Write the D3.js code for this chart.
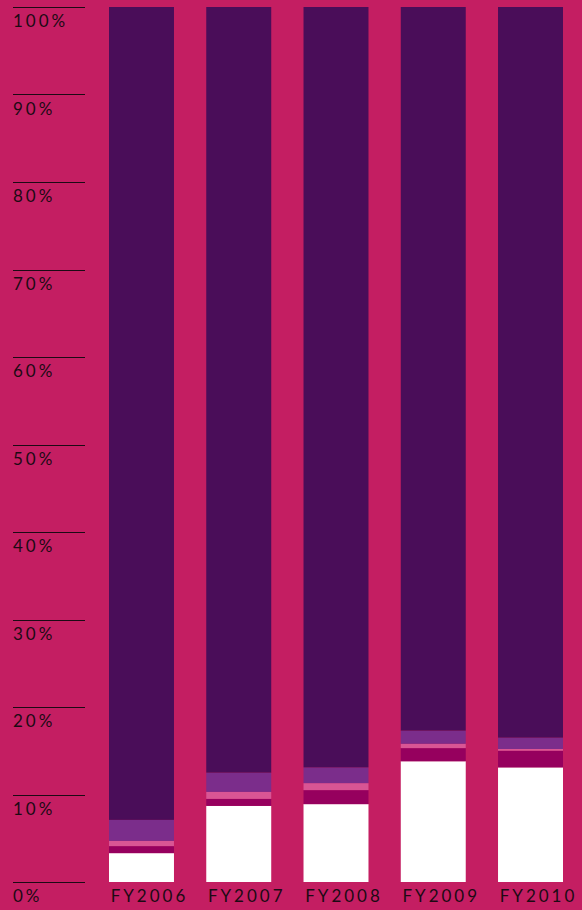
<!DOCTYPE html>
<html>
<head>
<meta charset="utf-8">
<script src="https://cdn.jsdelivr.net/npm/d3@7/dist/d3.min.js"></script>
<style>
  html, body { margin: 0; padding: 0; background: #C41E62; }
  svg { display: block; }
  text { font-family: Lato, "Noto Sans", sans-serif; font-size: 17px; fill: #1c0a14; letter-spacing: 3px; }
</style>
</head>
<body>
<svg id="chart" width="582" height="910"></svg>
<script>
const years = ["FY2006", "FY2007", "FY2008", "FY2009", "FY2010"];
const whiteSeg   = [3.3, 8.7, 8.9, 13.8, 13.1];
const magentaSeg = [0.8, 0.8, 1.6, 1.5, 1.9];
const pinkSeg    = [0.6, 0.8, 0.8, 0.5, 0.2];
const purpleSeg  = [2.4, 2.2, 1.8, 1.5, 1.3];
const darkSeg    = [92.9, 87.5, 86.9, 82.7, 83.5];
const yTicks = [0, 10, 20, 30, 40, 50, 60, 70, 80, 90, 100];
const tickLabels = ["0%", "10%", "20%", "30%", "40%", "50%", "60%", "70%", "80%", "90%", "100%"];

const keys = ["white", "magenta", "pink", "purple", "dark"];
const colors = { white: "#FFFFFF", magenta: "#96005E", pink: "#D95594", purple: "#7B2D8B", dark: "#4A0D59" };
const table = years.map((y, i) => ({
  year: y, white: whiteSeg[i], magenta: magentaSeg[i], pink: pinkSeg[i], purple: purpleSeg[i], dark: darkSeg[i]
}));

const svg = d3.select("#chart");
const y = d3.scaleLinear().domain([0, 100]).range([882, 7]);
const x = d3.scaleBand().domain(years).range([109, 563]).paddingInner(0.332).paddingOuter(0);

const stack = d3.stack().keys(keys)(table);

svg.append("g").selectAll("g").data(stack).join("g")
  .attr("fill", d => colors[d.key])
  .selectAll("rect").data(d => d).join("rect")
  .attr("x", d => x(d.data.year))
  .attr("width", x.bandwidth())
  .attr("y", d => y(d[1]))
  .attr("height", d => y(d[0]) - y(d[1]));

// y gridlines + labels
const g = svg.append("g");
g.selectAll("line").data(yTicks).join("line")
  .attr("x1", 13).attr("x2", 85)
  .attr("y1", d => Math.round(y(d)) + 0.5).attr("y2", d => Math.round(y(d)) + 0.5)
  .attr("stroke", "#1c0a14").attr("stroke-width", 1.2);
g.selectAll("text").data(yTicks).join("text")
  .attr("x", 13).attr("y", d => y(d) + 20)
  .text((d, i) => tickLabels[i]);

// x labels
svg.append("g").selectAll("text").data(years).join("text")
  .attr("x", d => x(d) + x.bandwidth() / 2 + 8)
  .attr("y", 901.5)
  .attr("text-anchor", "middle")
  .text(d => d);
</script>
</body>
</html>
